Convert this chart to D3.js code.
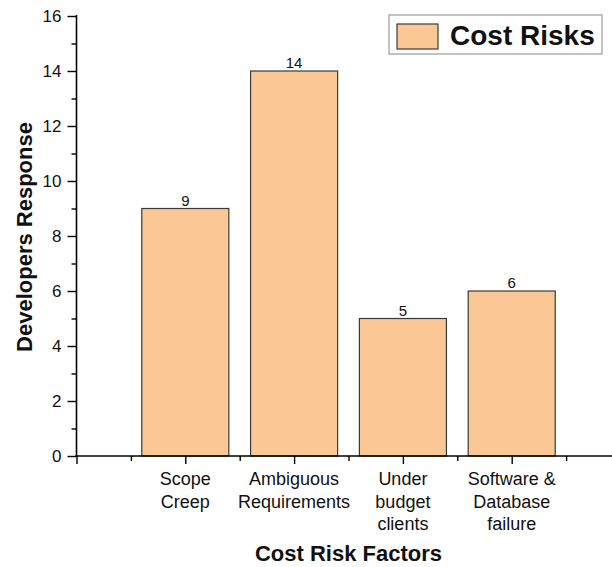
<!DOCTYPE html>
<html>
<head>
<meta charset="utf-8">
<script src="https://cdn.jsdelivr.net/npm/d3@7"></script>
<style>
  body { margin: 0; background: #fff; }
  svg { font-family: Arial, "Liberation Sans", sans-serif; }
</style>
</head>
<body>
<svg id="svg" width="612" height="567"></svg>
<script>
const categories = [
  ['Scope', 'Creep'],
  ['Ambiguous', 'Requirements'],
  ['Under', 'budget', 'clients'],
  ['Software &', 'Database', 'failure']
]
const values = [9, 14, 5, 6]
const yTicks = [0, 2, 4, 6, 8, 10, 12, 14, 16]
const seriesName = 'Cost Risks'

const svg = d3.select('#svg')
const fill = '#fbc794'
const edge = '#3a3a3a'

const xScale = d3.scaleLinear()
  .domain([0, 5])
  .range([76.5, 76.5 + 5 * 108.8])

const yScale = d3.scaleLinear()
  .domain([0, 16])
  .range([456, 16])

// bars
svg.selectAll('rect.bar')
  .data(values)
  .enter()
  .append('rect')
  .attr('class', 'bar')
  .attr('x', (d, i) => xScale(i + 1 - 0.4))
  .attr('width', xScale(0.8) - xScale(0))
  .attr('y', d => yScale(d))
  .attr('height', d => yScale(0) - yScale(d))
  .attr('fill', fill)
  .attr('stroke', edge)
  .attr('stroke-width', 1.2)

// value labels
svg.selectAll('text.val')
  .data(values)
  .enter()
  .append('text')
  .attr('class', 'val')
  .attr('x', (d, i) => xScale(i + 1))
  .attr('y', d => yScale(d) - 3)
  .attr('text-anchor', 'middle')
  .attr('font-size', 15)
  .attr('fill', '#111')
  .text(d => d)

// y axis: minor then major
const yAxisG = svg.append('g').attr('transform', `translate(${xScale(0)},0)`)
yAxisG.call(d3.axisLeft(yScale).tickValues(d3.range(1, 16, 2)).tickSize(5).tickFormat(''))
yAxisG.append('g').call(d3.axisLeft(yScale).tickValues(yTicks).tickSize(9).tickPadding(6))
yAxisG.selectAll('.domain').remove()
yAxisG.append('line')
  .attr('y1', yScale(16) - 1).attr('y2', yScale(0))
  .attr('stroke', '#000').attr('stroke-width', 1.6)
yAxisG.selectAll('text').attr('font-size', 17).attr('font-family', 'Arial, "Liberation Sans", sans-serif').attr('fill', '#111')
yAxisG.selectAll('.tick line').attr('stroke', '#000').attr('stroke-width', 1.4)

// x axis
const xAxisG = svg.append('g').attr('transform', `translate(0,${yScale(0)})`)
xAxisG.call(d3.axisBottom(xScale).tickValues([0.5, 1.5, 2.5, 3.5, 4.5]).tickSize(5).tickFormat(''))
xAxisG.append('g').call(d3.axisBottom(xScale).tickValues([0, 1, 2, 3, 4]).tickSize(8).tickFormat(''))
xAxisG.selectAll('.domain').remove()
xAxisG.append('line')
  .attr('x1', xScale(0) - 1).attr('x2', 612)
  .attr('stroke', '#000').attr('stroke-width', 1.6)
xAxisG.selectAll('.tick line').attr('stroke', '#000').attr('stroke-width', 1.4)

// category labels
const catG = svg.selectAll('text.cat')
  .data(categories)
  .enter()
  .append('text')
  .attr('class', 'cat')
  .attr('text-anchor', 'middle')
  .attr('font-size', 18)
  .attr('fill', '#111')
catG.selectAll('tspan')
  .data((d, i) => d.map(s => ({ s, i })))
  .enter()
  .append('tspan')
  .attr('x', d => xScale(d.i + 1))
  .attr('y', (d, j) => 485 + j * 22.5)
  .text(d => d.s)

// axis titles
svg.append('text')
  .attr('x', (xScale(1) + xScale(4)) / 2)
  .attr('y', 561)
  .attr('text-anchor', 'middle')
  .attr('font-size', 22)
  .attr('font-weight', 'bold')
  .attr('fill', '#111')
  .text('Cost Risk Factors')

svg.append('text')
  .attr('transform', 'translate(32,237) rotate(-90)')
  .attr('text-anchor', 'middle')
  .attr('font-size', 22)
  .attr('font-weight', 'bold')
  .attr('fill', '#111')
  .text('Developers Response')

// legend
const legend = svg.append('g')
legend.append('rect')
  .attr('x', 389).attr('y', 15)
  .attr('width', 213).attr('height', 39)
  .attr('fill', '#fff')
  .attr('stroke', '#9a9a9a')
  .attr('stroke-width', 1.2)
legend.append('rect')
  .attr('x', 397).attr('y', 24)
  .attr('width', 41).attr('height', 25)
  .attr('fill', fill)
  .attr('stroke', edge)
  .attr('stroke-width', 1.2)
legend.append('text')
  .attr('x', 450).attr('y', 45)
  .attr('font-size', 28)
  .attr('font-weight', 'bold')
  .attr('fill', '#111')
  .text(seriesName)
</script>
</body>
</html>
